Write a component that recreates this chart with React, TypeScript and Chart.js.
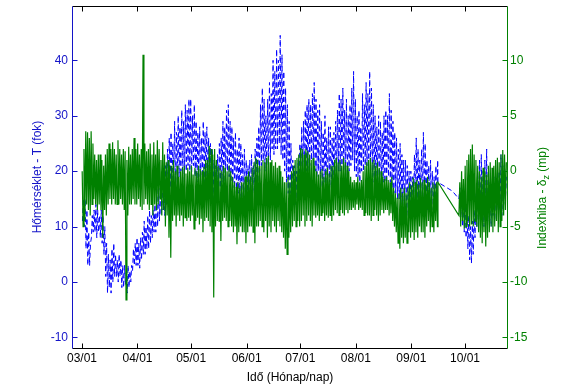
import React, { useEffect, useRef } from 'react';
import { Chart, registerables } from 'chart.js';

Chart.register(...registerables);

// ---- axis definitions ----
const X_MIN = -5.03; // days from 03/01
const X_MAX = 237.47;
const X_TICK_DAYS = [0, 31, 61, 92, 122, 153, 184, 214];
const X_TICK_LABELS = ['03/01', '04/01', '05/01', '06/01', '07/01', '08/01', '09/01', '10/01'];
const T_MIN = -11.9;
const T_MAX = 49.8;
const T_TICKS = [-10, 0, 10, 20, 30, 40];
const D_MIN = -15.95;
const D_MAX = 14.9;
const D_TICKS = [-15, -10, -5, 0, 5, 10];

const X_TITLE = 'Idő (Hónap/nap)';
const T_TITLE = 'Hőmérséklet - T (fok)';
const D_TITLE_MAIN = 'Indexhiba - δ';
const D_TITLE_SUB = 'z';
const D_TITLE_END = ' (mp)';

// ---- data: segment 1 (days 0..198 from 03/01), daily max / min ----
const SEG1_START = 0;
const T_HIGH_1 = [
  15, 15, 13, 9, 7, 12, 13, 14, 13, 12,
  13, 12, 10, 7, 5, 4, 6, 7, 5, 4,
  5, 4, 3, 3, 2, 3, 2, 3, 6, 7,
  8, 7, 8, 9, 11, 10, 12, 13, 12, 13,
  14, 17, 18, 17, 20, 19, 21, 24, 26, 27,
  25, 29, 27, 30, 28, 31, 29, 32, 31, 33,
  33, 30, 32, 29, 27, 28, 26, 29, 27, 28,
  26, 25, 24, 22, 21, 23, 25, 26, 29, 28,
  31, 32, 29, 28, 26, 27, 24, 26, 25, 23,
  24, 22, 21, 22, 23, 21, 24, 26, 28, 32,
  35, 33, 30, 33, 36, 34, 40, 38, 42, 40,
  44.5, 41, 38, 35, 32, 29, 25, 22, 21, 20,
  22, 25, 28, 29, 31, 32, 33, 32, 34, 36,
  33, 31, 32, 29, 27, 30, 26, 28, 28, 26,
  27, 29, 31, 34, 33, 35, 31, 33, 30, 32,
  35, 38, 33, 30, 31, 28, 34, 32, 36, 34,
  38, 35, 32, 30, 28, 30, 29, 27, 30, 31,
  30, 34, 31, 29, 27, 26, 24, 25, 23, 22,
  22, 21, 20, 20, 19, 23, 26, 24, 22, 24,
  27, 25, 22, 21, 22, 20, 19, 21, 22,
];
const T_LOW_1 = [
  11, 10, 6, 3, 3, 8, 9, 9, 8, 9,
  8, 7, 5, 1, -2, -1, -2, 0, 1, 1,
  0, 1, -1, -1, -0.5, -2, -1, 0, 2, 3,
  3, 3, 2.5, 4, 5, 5, 6, 6, 7, 8,
  9, 9, 10, 11, 12, 13, 12, 14, 16, 17,
  16, 18, 17, 18, 19, 20, 18, 19, 20, 21,
  20, 19, 21, 19, 18, 19, 18, 19, 18, 17,
  17, 16, 16, 15, 14, 15, 16, 17, 18, 18,
  19, 20, 19, 18, 17, 17, 16, 16, 15, 15,
  15, 14, 14, 15, 15, 15, 16, 17, 18, 20,
  21, 22, 20, 21, 22, 22, 24, 23, 24, 24,
  25, 23, 22, 20, 18, 16, 16, 15, 15, 14,
  14, 15, 17, 18, 19, 20, 20, 21, 22, 22,
  20, 19, 20, 18, 17, 18, 17, 17, 18, 17,
  17, 18, 19, 20, 20, 21, 20, 20, 19, 20,
  21, 22, 20, 19, 19, 18, 20, 20, 21, 21,
  22, 21, 19, 18, 17, 18, 17, 17, 18, 18,
  18, 19, 18, 17, 16, 16, 15, 15, 14, 14,
  13, 13, 12, 12, 13, 14, 15, 15, 14, 14,
  15, 15, 14, 13, 13, 13, 13, 14, 15,
];
const D_HIGH_1 = [
  0, 2, 3.6, 3.5, 3, 3.6, 2.5, 1.5, 1, 1.5,
  1.5, 1, 0.5, 1.5, 2, 2.5, 2, 2.6, 2, 1.5,
  2.8, 2, 1.5, 2, 1.8, 1, 2.2, 1.5, 2, 3,
  2, 2.5, 1.5, 2, 10.5, 2.5, 1.8, 2, 2.5, 1.5,
  2.6, 1.5, 2.8, 2, 1, 2.6, 1.5, 0.8, 1, 0.5,
  0.5, 1, 0, 0.5, -0.5, 0, 0.3, 0.5, -0.2, 0.3,
  0, 0.5, -0.3, 0.3, 0, 0.5, 0.2, 0, 0.4, 1,
  1, 2.3, 2, 1.5, 2, 1, 0.5, 0.3, 0, 0.5,
  0.3, 0, 0.5, 0, -0.5, -1, -1.4, -1, -1.5, -1,
  -1, -0.5, -0.4, 0, -0.5, 0.3, 0.8, 1.2, 1, 0.5,
  0.5, 1, 0.8, 1.2, 1.4, 0.8, 1, 0.5, 0.8, 0.3,
  0.5, 0, -0.5, -1, -1, -0.5, -1, 0, 0.5, 1,
  1.2, 1.5, 2.1, 2, 1.5, 2, 1.8, 1.5, 1, 1.2,
  0.5, 0, -0.3, 0, 0.2, -0.5, 0, 0.3, -0.2, 0.5,
  0.5, 1, 1.2, 0.8, 1, 0.5, 1.2, 0.8, 0.5, 0,
  -0.5, -1, -0.8, -1, -0.5, -1, -0.8, 0, 0.5, 0.8,
  1, 1.2, 0.8, 1, 0.5, 0.8, 0.3, 0, -0.5, -0.7,
  -0.5, -0.8, -1, -0.5, -1.5, -2, -2.4, -2, -1.5, -2,
  -1.5, -2, -1.5, -1, -1.3, -0.6, -1, -0.8, -1.2, -0.6,
  -1, -0.8, -1.2, -0.5, -1, -1.5, -1, -1.2, -1,
];
const D_LOW_1 = [
  -5, -4.5, -3, -3.5, -4, -3, -2.5, -3, -3.5, -3,
  -3.5, -6, -3.5, -4, -3, -2.5, -3, -2.5, -3, -3,
  -3, -2.5, -3, -3.5, -11.6, -4, -3, -3, -2.5, -3,
  -3, -2.5, -3.2, -3.5, -3, -2.5, -3, -3.5, -3, -4,
  -3, -3.5, -3, -2.5, -4, -3.5, -5, -4, -6, -7.8,
  -4.5, -4, -5, -4, -4.5, -4, -5, -4.2, -4.5, -4.2,
  -4.5, -4, -5.2, -4.5, -4.2, -4.8, -4.3, -5.5, -4.5, -4.2,
  -4.5, -5, -5.5, -11.4, -5, -4.5, -4.5, -6.3, -4.5, -4.2,
  -4.5, -5, -4.5, -5, -5.5, -5, -6.6, -5.5, -5, -5.5,
  -5.5, -6.5, -5.5, -5, -5, -5.5, -6.5, -5, -5, -4.5,
  -5, -5.5, -4.5, -6, -5, -5.5, -4.5, -5, -5.5, -4.5,
  -5, -5.5, -6, -7, -7.5, -6, -5.5, -5, -4.5, -5,
  -4.5, -5, -4.5, -4, -5, -4.5, -4, -4.5, -5, -4,
  -4.2, -4, -4.5, -4, -3.8, -4.5, -4, -4.2, -4, -4.5,
  -4, -3.5, -3.8, -4, -3.5, -3.8, -4, -3.5, -3.8, -3.5,
  -3.5, -3.3, -3.5, -3, -3.5, -3.3, -3.5, -4, -3.8, -4,
  -4, -4.5, -4, -3.5, -4, -4.5, -4, -3.5, -3.8, -3.5,
  -3.5, -4, -3.8, -4.5, -5, -5.5, -6.5, -7, -6, -6.5,
  -6, -6.5, -5.5, -6, -5.5, -6.2, -5.5, -6, -5, -5.5,
  -5.5, -6, -5, -4.5, -5.5, -5, -5.5, -4.5, -5,
];

// ---- end of segment 1 and gap ----
const SEG1_END_DAY = 198.9;
const SEG1_END_T = 18;
const SEG1_END_D = -1;
const T_GAP_DAY = 207;
const T_GAP_VALUE = 16.4;

// ---- segment 2 (days 210..236) ----
const SEG2_START = 210;
const T_HIGH_2 = [17, 16, 15, 16, 14, 12, 10, 11, 13, 16, 19, 22, 23, 20, 22, 24, 19, 18, 17, 19, 17, 18, 20, 23, 21, 22, 19];
const T_LOW_2 = [15, 12, 10, 9, 8, 6, 4, 3.4, 5, 8, 10, 12, 11, 12, 10, 11, 10, 11, 10, 12, 11, 12, 13, 13, 12, 14, 15];
const D_HIGH_2 = [-1, 0, -0.7, 0.5, 1, 1.5, 2, 2.4, 1.5, 1, 0.5, 0, -0.5, 0.3, 0, -0.3, 0.5, 0.8, 0.3, 0.5, 1, 1.2, 0.8, 1.5, 1.9, 1.5, 0.8];
const D_LOW_2 = [-4, -5, -4.5, -5.2, -5, -4.5, -5, -4.8, -5, -4.5, -5, -5.5, -6, -6.5, -5.5, -6.8, -6, -5.5, -5, -5.5, -5, -4.5, -5.5, -5, -4.5, -4, -3.5];

type Pt = { x: number; y: number };

function dailyZigzag(start: number, first: number[], second: number[], p1: number, p2: number): Pt[] {
  const pts: Pt[] = [];
  for (let i = 0; i < first.length; i++) {
    pts.push({ x: start + i + p1, y: first[i] });
    pts.push({ x: start + i + p2, y: second[i] });
  }
  return pts;
}

const FONT_FAMILY = "'Liberation Sans', Arial, Helvetica, sans-serif";
const BLUE_LINE = '#0000ff';
const BLUE_AXIS = '#1414c8';
const GREEN = '#008000';

const axesPlugin = {
  id: 'matlabAxes',
  afterDatasetsDraw(chart: any) {
    const { ctx, chartArea: a, scales } = chart;
    const L = a.left - 0.5;
    const R = a.right + 0.5;
    const T = a.top + 0.5;
    const B = a.bottom + 0.5;
    const TL = 5;
    ctx.save();
    ctx.lineWidth = 1;
    ctx.setLineDash([]);
    ctx.strokeStyle = '#000';
    ctx.beginPath();
    for (const d of X_TICK_DAYS) {
      const px = Math.round(scales.x.getPixelForValue(d)) + 0.5;
      ctx.moveTo(px, B);
      ctx.lineTo(px, B - TL);
      ctx.moveTo(px, T);
      ctx.lineTo(px, T + TL);
    }
    ctx.moveTo(L, T);
    ctx.lineTo(R, T);
    ctx.moveTo(L, B);
    ctx.lineTo(R, B);
    ctx.stroke();
    ctx.strokeStyle = BLUE_AXIS;
    ctx.beginPath();
    ctx.moveTo(L, T);
    ctx.lineTo(L, B);
    for (const v of T_TICKS) {
      const py = Math.round(scales.yT.getPixelForValue(v)) + 0.5;
      ctx.moveTo(L, py);
      ctx.lineTo(L + TL, py);
    }
    ctx.stroke();
    ctx.strokeStyle = GREEN;
    ctx.beginPath();
    ctx.moveTo(R, T);
    ctx.lineTo(R, B);
    for (const v of D_TICKS) {
      const py = Math.round(scales.yD.getPixelForValue(v)) + 0.5;
      ctx.moveTo(R, py);
      ctx.lineTo(R - TL, py);
    }
    ctx.stroke();
    ctx.restore();
  },
  afterDraw(chart: any) {
    const { ctx, chartArea: a } = chart;
    const midY = (a.top + a.bottom) / 2;
    ctx.save();
    ctx.font = `12px ${FONT_FAMILY}`;
    ctx.textBaseline = 'middle';
    ctx.fillStyle = '#000';
    ctx.textAlign = 'center';
    ctx.fillText(X_TITLE, (a.left + a.right) / 2, a.bottom + 30);
    ctx.save();
    ctx.translate(a.left - 35, midY);
    ctx.rotate(-Math.PI / 2);
    ctx.fillStyle = BLUE_AXIS;
    ctx.textAlign = 'center';
    ctx.fillText(T_TITLE, 0, 0);
    ctx.restore();
    ctx.save();
    ctx.translate(a.right + 36, midY + 21);
    ctx.rotate(-Math.PI / 2);
    ctx.fillStyle = GREEN;
    ctx.textAlign = 'left';
    const mainFont = `12px ${FONT_FAMILY}`;
    const subFont = `9px ${FONT_FAMILY}`;
    ctx.font = mainFont;
    const w1 = ctx.measureText(D_TITLE_MAIN).width;
    const w3 = ctx.measureText(D_TITLE_END).width;
    ctx.font = subFont;
    const w2 = ctx.measureText(D_TITLE_SUB).width;
    const total = w1 + w2 + w3;
    let x = -total / 2;
    ctx.font = mainFont;
    ctx.fillText(D_TITLE_MAIN, x, 0);
    x += w1;
    ctx.font = subFont;
    ctx.fillText(D_TITLE_SUB, x, 4);
    x += w2;
    ctx.font = mainFont;
    ctx.fillText(D_TITLE_END, x, 0);
    ctx.restore();
    ctx.restore();
  },
};

function noPadding(s: any) {
  s.paddingTop = 0;
  s.paddingBottom = 0;
  s.paddingLeft = 0;
  s.paddingRight = 0;
}

export default function App() {
  const ref = useRef<HTMLCanvasElement>(null);

  useEffect(() => {
    const canvas = ref.current;
    if (!canvas) return;

    const tempPts: Pt[] = [
      ...dailyZigzag(SEG1_START, T_LOW_1, T_HIGH_1, 0.25, 0.75),
      { x: SEG1_END_DAY, y: SEG1_END_T },
      { x: T_GAP_DAY, y: T_GAP_VALUE },
      ...dailyZigzag(SEG2_START, T_LOW_2, T_HIGH_2, 0.6, 1.1),
    ];
    const idxPts: Pt[] = [
      ...dailyZigzag(SEG1_START, D_HIGH_1, D_LOW_1, 0.1, 0.6),
      { x: SEG1_END_DAY, y: SEG1_END_D },
      ...dailyZigzag(SEG2_START, D_LOW_2, D_HIGH_2, 0.6, 1.1),
    ];

    const tickFont = { family: FONT_FAMILY, size: 12 };

    const chart = new Chart(canvas, {
      type: 'line',
      data: {
        datasets: [
          {
            data: idxPts,
            yAxisID: 'yD',
            xAxisID: 'x',
            borderColor: GREEN,
            borderWidth: 1.2,
            pointRadius: 0,
            tension: 0,
            fill: false,
            order: 0,
          },
          {
            data: tempPts,
            yAxisID: 'yT',
            xAxisID: 'x',
            borderColor: BLUE_LINE,
            borderWidth: 1,
            borderDash: [5, 3],
            pointRadius: 0,
            tension: 0,
            fill: false,
            order: 1,
          },
        ],
      },
      options: {
        responsive: false,
        maintainAspectRatio: false,
        devicePixelRatio: 1,
        animation: false,
        events: [],
        layout: { padding: { top: 6, left: 0, right: 0, bottom: 0 } },
        plugins: { legend: { display: false }, tooltip: { enabled: false }, title: { display: false } },
        scales: {
          x: {
            type: 'linear',
            position: 'bottom',
            min: X_MIN,
            max: X_MAX,
            afterBuildTicks: (s: any) => {
              s.ticks = X_TICK_DAYS.map((v) => ({ value: v }));
            },
            afterFit: (s: any) => {
              s.height = 40;
              noPadding(s);
            },
            grid: { display: false, drawTicks: false },
            border: { display: false },
            ticks: {
              autoSkip: false,
              maxRotation: 0,
              minRotation: 0,
              padding: 3,
              color: '#000',
              font: tickFont,
              callback: (_v: any, i: number) => X_TICK_LABELS[i],
            },
          },
          yT: {
            type: 'linear',
            position: 'left',
            min: T_MIN,
            max: T_MAX,
            afterBuildTicks: (s: any) => {
              s.ticks = T_TICKS.map((v) => ({ value: v }));
            },
            afterFit: (s: any) => {
              s.width = 73;
              noPadding(s);
            },
            grid: { display: false, drawTicks: false },
            border: { display: false },
            ticks: { padding: 5, color: BLUE_AXIS, font: tickFont, callback: (v: any) => String(v) },
          },
          yD: {
            type: 'linear',
            position: 'right',
            min: D_MIN,
            max: D_MAX,
            afterBuildTicks: (s: any) => {
              s.ticks = D_TICKS.map((v) => ({ value: v }));
            },
            afterFit: (s: any) => {
              s.width = 54;
              noPadding(s);
            },
            grid: { display: false, drawTicks: false },
            border: { display: false },
            ticks: { padding: 3, color: GREEN, font: tickFont, callback: (v: any) => String(v) },
          },
        },
      },
      plugins: [axesPlugin],
    } as any);

    return () => chart.destroy();
  }, []);

  return (
    <div style={{ position: 'absolute', left: 0, top: 0, width: 561, height: 388, background: '#fff' }}>
      <canvas ref={ref} width={561} height={388} style={{ display: 'block', width: 561, height: 388 }} />
    </div>
  );
}
